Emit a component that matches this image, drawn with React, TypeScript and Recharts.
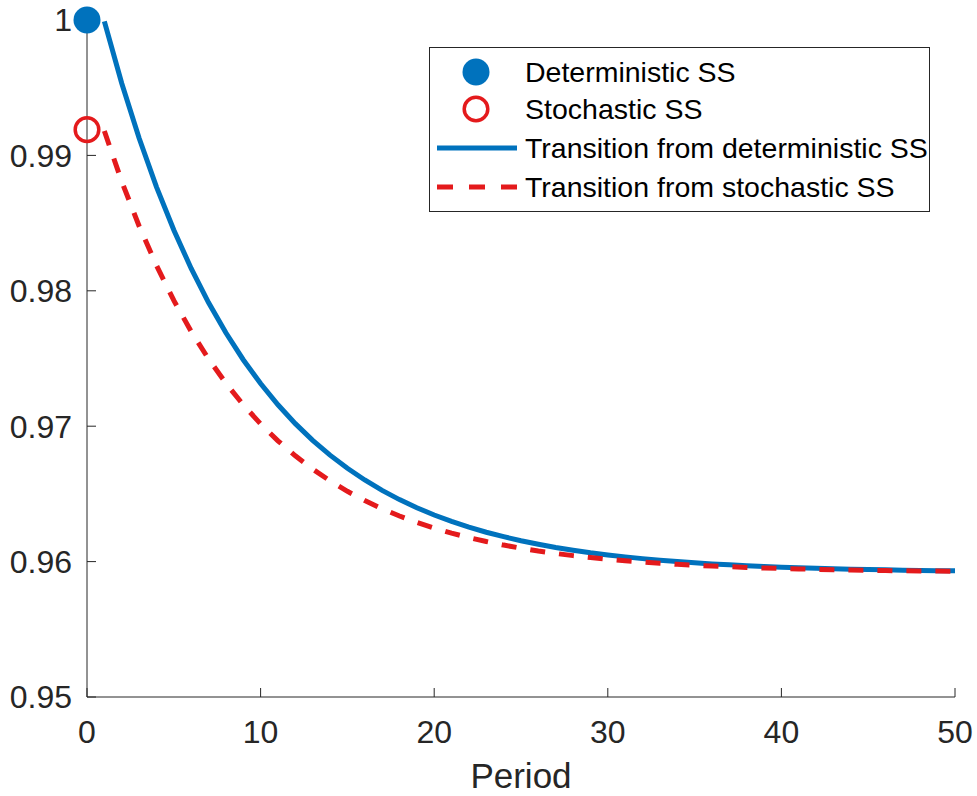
import { LineChart, Line, XAxis, YAxis, Legend } from 'recharts';

const periods = [0, 1, 2, 3, 4, 5, 6, 7, 8, 9, 10, 11, 12, 13, 14, 15, 16, 17, 18, 19, 20, 21, 22, 23, 24, 25, 26, 27, 28, 29, 30, 31, 32, 33, 34, 35, 36, 37, 38, 39, 40, 41, 42, 43, 44, 45, 46, 47, 48, 49, 50];

// transition paths, period 1..50 (period 0 is the steady state itself)
const fromDeterministic = [
  0.9999, 0.99533, 0.99128, 0.98768, 0.98449, 0.98165, 0.97913, 0.9769, 0.97491, 0.97315,
  0.97158, 0.97019, 0.96896, 0.96786, 0.96689, 0.96603, 0.96526, 0.96458, 0.96398, 0.96344,
  0.96297, 0.96255, 0.96217, 0.96184, 0.96154, 0.96128, 0.96104, 0.96084, 0.96065, 0.96049,
  0.96035, 0.96022, 0.9601, 0.96, 0.95991, 0.95983, 0.95976, 0.9597, 0.95964, 0.95959,
  0.95955, 0.95951, 0.95947, 0.95944, 0.95942, 0.95939, 0.95937, 0.95935, 0.95933, 0.95932,
];
const fromStochastic = [
  0.9918, 0.98808, 0.98479, 0.98188, 0.97929, 0.977, 0.97497, 0.97318, 0.97158, 0.97017,
  0.96892, 0.96781, 0.96683, 0.96596, 0.96519, 0.96451, 0.9639, 0.96337, 0.96289, 0.96247,
  0.9621, 0.96177, 0.96148, 0.96122, 0.96099, 0.96078, 0.9606, 0.96044, 0.9603, 0.96017,
  0.96006, 0.95997, 0.95988, 0.9598, 0.95973, 0.95967, 0.95962, 0.95957, 0.95953, 0.95949,
  0.95946, 0.95943, 0.9594, 0.95938, 0.95936, 0.95934, 0.95932, 0.95931, 0.9593, 0.95929,
];
const deterministicSS = 1;
const stochasticSS = 0.9919;

const xTicks = [0, 10, 20, 30, 40, 50];
const yTicks = [0.95, 0.96, 0.97, 0.98, 0.99, 1];

const BLUE = '#0072bd';
const RED = '#e41a1c';
const INK = '#262626';
const FONT = '"Liberation Sans", Arial, sans-serif';

const data = periods.map((p, i) => ({
  period: p,
  det: i === 0 ? null : fromDeterministic[i - 1],
  sto: i === 0 ? null : fromStochastic[i - 1],
  detSS: i === 0 ? deterministicSS : null,
  stoSS: i === 0 ? stochasticSS : null,
}));

const FilledDot = (props: any) => {
  const { cx, cy, index } = props;
  if (cy == null || cx == null) return <g key={index} />;
  return <circle key={index} cx={cx} cy={cy} r={13.5} fill={BLUE} />;
};

const OpenDot = (props: any) => {
  const { cx, cy, index } = props;
  if (cy == null || cx == null) return <g key={index} />;
  return <circle key={index} cx={cx} cy={cy} r={11.8} fill="none" stroke={RED} strokeWidth={3.5} />;
};

const renderLegend = () => {
  const rows = [25, 62, 101, 140];
  const text = { fontFamily: FONT, fontSize: 28.5, fill: '#000' };
  return (
    <svg width={501} height={165} style={{ display: 'block' }}>
      <rect x={0.5} y={0.5} width={500} height={164} fill="#fff" stroke={INK} strokeWidth={1} />
      <circle cx={47} cy={rows[0]} r={13.5} fill={BLUE} />
      <text x={96} y={rows[0] + 10} {...text}>Deterministic SS</text>
      <circle cx={47} cy={rows[1]} r={11.8} fill="none" stroke={RED} strokeWidth={3.5} />
      <text x={96} y={rows[1] + 10} {...text}>Stochastic SS</text>
      <line x1={8} y1={rows[2]} x2={88} y2={rows[2]} stroke={BLUE} strokeWidth={5} />
      <text x={96} y={rows[2] + 10} {...text}>Transition from deterministic SS</text>
      <line x1={8} y1={rows[3]} x2={88} y2={rows[3]} stroke={RED} strokeWidth={5} strokeDasharray="16 16" />
      <text x={96} y={rows[3] + 10} {...text}>Transition from stochastic SS</text>
    </svg>
  );
};

export default function App() {
  return (
    <div style={{ position: 'absolute', left: 0, top: 0, background: '#fff' }}>
      <LineChart width={977} height={796} data={data} margin={{ top: 20, right: 22, left: 0, bottom: 0 }}>
        <XAxis
          dataKey="period"
          type="number"
          domain={[0, 50]}
          ticks={xTicks}
          height={99}
          stroke={INK}
          tickSize={-9}
          tickMargin={32}
          tick={{ fontSize: 32, fill: INK, fontFamily: FONT }}
          label={{ value: 'Period', position: 'insideBottom', offset: 8, fontSize: 35, fill: INK, fontFamily: FONT }}
        />
        <YAxis
          type="number"
          domain={[0.95, 1]}
          ticks={yTicks}
          width={87}
          stroke={INK}
          tickSize={-9}
          tickMargin={24}
          tick={{ fontSize: 32, fill: INK, fontFamily: FONT }}
          tickFormatter={(v: number) => String(v)}
        />
        <Legend
          content={renderLegend}
          layout="vertical"
          align="center"
          verticalAlign="middle"
          wrapperStyle={{ top: 47, left: 429, width: 501, height: 165 }}
        />
        <Line
          dataKey="det"
          type="linear"
          stroke={BLUE}
          strokeWidth={5}
          dot={false}
          activeDot={false}
          isAnimationActive={false}
        />
        <Line
          dataKey="sto"
          type="linear"
          stroke={RED}
          strokeWidth={5}
          strokeDasharray="15 14"
          dot={false}
          activeDot={false}
          isAnimationActive={false}
        />
        <Line dataKey="detSS" stroke="none" dot={FilledDot} activeDot={false} isAnimationActive={false} />
        <Line dataKey="stoSS" stroke="none" dot={OpenDot} activeDot={false} isAnimationActive={false} />
      </LineChart>
    </div>
  );
}
